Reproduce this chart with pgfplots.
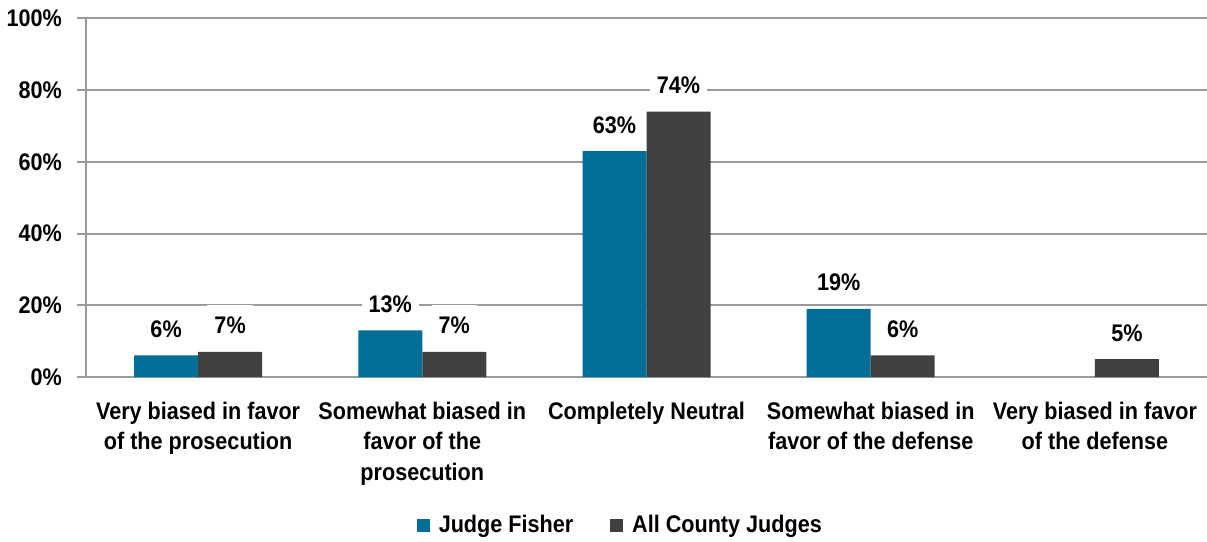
\documentclass[border=0pt]{standalone}
\usepackage{fontspec}
\setmainfont[FakeStretch=0.9]{Liberation Sans}
\usepackage{pgfplots}
\pgfplotsset{compat=1.18}
\definecolor{jf}{HTML}{006E96}
\definecolor{acj}{HTML}{404040}
\definecolor{gridc}{HTML}{9A9A9A}
\begin{document}
\begin{tikzpicture}
\begin{axis}[
  scale only axis, width=560.5pt, height=179.25pt,
  xmin=-0.5, xmax=4.5, ymin=0, ymax=100,
  ybar=0pt, bar width=32pt,
  axis x line*=bottom, axis y line*=left,
  axis line style={gridc, line width=1pt, -},
  /pgf/number format/assume math mode=true,
  ytick={0,20,...,100},
  yticklabel={\pgfmathprintnumber{\tick}\%},
  yticklabel style={font=\fontsize{12pt}{14pt}\selectfont\bfseries, xshift=-4pt},
  ymajorgrids, grid style={gridc, line width=1pt},
  tick align=outside, major tick length=4.5pt, minor tick length=4.5pt,
  ytick style={gridc, line width=1pt},
  xtick={0,...,4},
  xtick style={draw=none},
  minor xtick={0.5,1.5,2.5,3.5},
  minor x tick style={gridc, line width=1pt},
  xticklabels={Very biased in favor\\of the prosecution, Somewhat biased in\\favor of the\\prosecution, Completely Neutral, Somewhat biased in\\favor of the defense, Very biased in favor\\of the defense},
  x tick label style={align=center, font=\fontsize{12pt}{15.25pt}\selectfont\bfseries, yshift=-4.5pt},
  nodes near coords={\pgfmathprintnumber{\pgfplotspointmeta}\%},
  every node near coord/.append style={font=\fontsize{12pt}{14pt}\selectfont\bfseries, fill=white, anchor=base, yshift=9pt, inner xsep=3.5pt, inner ysep=6pt, text=black},
  legend style={at={(0.4775,-0.413)}, anchor=center, draw=none, legend columns=2,
    font=\fontsize{12pt}{14pt}\selectfont\bfseries,
    /tikz/every even column/.append style={column sep=16.5pt}},
  legend image code/.code={\fill[#1] (0pt,-3.25pt) rectangle (6.5pt,3.25pt); \path (9pt,0pt);},
]
\addplot[fill=jf, draw=none] coordinates {(0,6) (1,13) (2,63) (3,19)};
\addplot[fill=acj, draw=none] coordinates {(0,7) (1,7) (2,74) (3,6) (4,5)};
\legend{Judge Fisher, All County Judges}
\end{axis}
\pgfresetboundingbox
\path[use as bounding box] ([xshift=-43pt,yshift=-82pt]current axis.south west) rectangle ([yshift=9.25pt]current axis.north east);
\end{tikzpicture}
\end{document}
